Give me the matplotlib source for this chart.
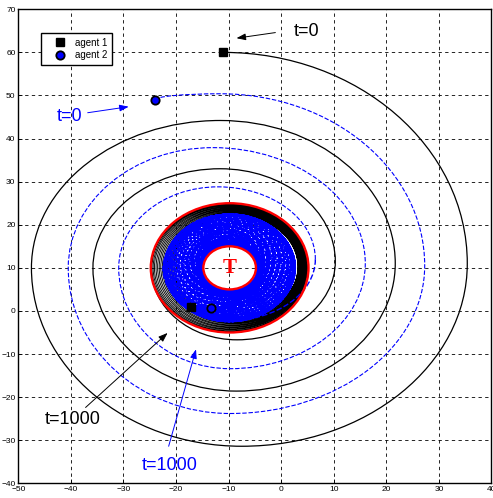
import matplotlib
matplotlib.use("Agg")
import numpy as np
import matplotlib.pyplot as plt
from matplotlib.path import Path
from matplotlib.patches import PathPatch, Circle

plt.rcParams['font.family'] = ['Liberation Sans', 'DejaVu Sans']

# target and the two circles around it
target = (-9.8, 10.0)
inner_radius = 5.0
outer_radius = 15.0

# agent 1: turning points of the wide spiral (top, right, bottom, left, ...)
a1_start = (-11.0, 60.0)
a1_end = (-17.2, 1.0)
a1_turn_x = [-11.0, 35.4, -7.5, -47.5, -11.6, 21.7, -8.5, -35.8, -11.6, 10.3, -8.4, -24.7]
a1_turn_y = [60.0, 11.0, -31.4, 10.0, 44.2, 11.0, -18.6, 10.0, 33.0, 11.5, -6.7, 10.0]
# agent 1: loops wound just inside the outer circle
a1_loop_cx = [-9.8, -9.75, -9.7, -9.6, -9.5, -9.4, -9.3, -9.2, -9.1, -9.0,
              -8.9, -8.8, -8.75, -8.7, -8.65, -8.6]
a1_loop_cy = [10.0, 10.0, 10.05, 10.05, 10.1, 10.1, 10.15, 10.15, 10.2, 10.2,
              10.2, 10.25, 10.25, 10.3, 10.3, 10.3]
a1_loop_r = [14.8, 14.6, 14.4, 14.2, 14.0, 13.8, 13.6, 13.4, 13.2, 13.0,
             12.8, 12.6, 12.4, 12.2, 12.0, 11.8]

# agent 2: start point, then turning points of the wide spiral
a2_start = (-24.0, 49.0)
a2_end = (-13.3, 0.7)
a2_turn_x = [-24.0, -11.6, 27.3, -9.7, -40.5, -13.0, 16.0, -9.7, -30.9, -12.0, 6.5]
a2_turn_y = [49.0, 50.4, 10.5, -23.8, 10.0, 37.9, 11.0, -13.4, 10.0, 28.8, 12.0]
# agent 2: lead-in loops before the steady orbit
a2_lead_cx = [-9.8, -10.9, -12.0, -13.0]
a2_lead_cy = [10.0, 10.0, 9.9, 9.8]
a2_lead_r = [12.2, 11.0, 10.2, 9.5]
# agent 2: steady orbit (loop radius, centre offset from T, offset direction per loop)
a2_orbit_r = 8.9
a2_orbit_offset = 3.6
a2_orbit_dir = [-175, -170, -165, -160, -155, -150, -145, -140, -135, -130, -125, -120,
                -115, -110, -105, -100, -95, -90, -85, -80, -75, -70, -65, -60,
                -55, -50, -45, -40, -35, -30, -25, -20, -15, -10, -5, 0,
                5, 10, 15, 20, 25, 30, 35, 40, 45, 50, 55, 60,
                65, 70, 75, 80, 85, 90, 95, 100, 105, 110, 115, 120,
                125, 130, 135, 140, 145, 150, 155, 160, 165, 170, 175, 180, 185]

# arrow labels: text position, arrow tail, arrow head
labels = [
    ("t=0", "black", (2.3, 64.9), (-1.1, 64.6), (-8.5, 63.3)),
    ("t=0", "blue", (-42.7, 45.2), (-36.8, 46.0), (-29.0, 47.4)),
    ("t=1000", "black", (-44.9, -25.3), (-37.2, -22.4), (-21.6, -5.1)),
    ("t=1000", "blue", (-26.6, -35.9), (-21.4, -31.4), (-16.2, -8.9)),
]

SIDES = "TRBL"
K = 0.5523


def ring(cx, cy, r):
    return {"T": (cx, cy + r), "R": (cx + r, cy), "B": (cx, cy - r), "L": (cx - r, cy)}


def agent_points(turn_x, turn_y, first_side, loop_cx, loop_cy, loop_r, end):
    pts = list(zip(turn_x, turn_y))
    side = SIDES.index(first_side) + len(pts)
    for cx, cy, r in zip(loop_cx, loop_cy, loop_r):
        rg = ring(cx, cy, r)
        for _ in range(4):
            pts.append(rg[SIDES[side % 4]])
            side += 1
    last = ring(loop_cx[-1], loop_cy[-1], loop_r[-1])
    while True:
        s = SIDES[side % 4]
        pts.append(last[s])
        side += 1
        if s == "B":
            break
    pts.append(end)
    return pts


def spiral_path(points, first_flat):
    # quarter-ellipse bezier pieces between successive turning points
    verts = [points[0]]
    codes = [Path.MOVETO]
    flat = first_flat
    for (x0, y0), (x1, y1) in zip(points[:-1], points[1:]):
        if flat:
            c1 = (x0 + K * (x1 - x0), y0)
            c2 = (x1, y1 + K * (y0 - y1))
        else:
            c1 = (x0, y0 + K * (y1 - y0))
            c2 = (x1 + K * (x0 - x1), y1)
        verts += [c1, c2, (x1, y1)]
        codes += [Path.CURVE4] * 3
        flat = not flat
    return Path(verts, codes)


def draw_agent(ax, pts, n_outer, first_flat, color, lw_outer, lw_core, ls, z):
    outer = pts[:n_outer + 1]
    core = pts[n_outer:]
    core_flat = first_flat if n_outer % 2 == 0 else not first_flat
    ax.add_patch(PathPatch(spiral_path(outer, first_flat), fill=False, edgecolor=color,
                           linewidth=lw_outer, linestyle=ls, zorder=z))
    ax.add_patch(PathPatch(spiral_path(core, core_flat), fill=False, edgecolor=color,
                           linewidth=lw_core, linestyle=ls, zorder=z))


ang = np.radians(a2_orbit_dir)
a2_cx = a2_lead_cx + list(target[0] + a2_orbit_offset * np.cos(ang))
a2_cy = a2_lead_cy + list(target[1] + a2_orbit_offset * np.sin(ang))
a2_r = a2_lead_r + [a2_orbit_r] * len(a2_orbit_dir)

pts1 = agent_points(a1_turn_x, a1_turn_y, "T", a1_loop_cx, a1_loop_cy, a1_loop_r, a1_end)
pts2 = agent_points(a2_turn_x, a2_turn_y, "L", a2_cx, a2_cy, a2_r, a2_end)

fig = plt.figure(figsize=(4.93, 4.98), dpi=100)
ax = fig.add_axes([0.0371, 0.0295, 0.9598, 0.9518])

draw_agent(ax, pts1, len(a1_turn_x) - 1, True, "black", 0.9, 0.65, "-", 2)
draw_agent(ax, pts2, len(a2_turn_x) - 1, False, "blue", 0.8, 1.0, (0, (4, 1.6)), 3)

for r in (outer_radius, inner_radius):
    ax.add_patch(Circle(target, r, fill=False, edgecolor="red", linewidth=1.7, zorder=4))
ax.text(target[0], target[1], "T", color="red", fontsize=15, fontweight="bold",
        family="Liberation Serif", ha="center", va="center", zorder=6)

ax.plot([a1_start[0], a1_end[0]], [a1_start[1], a1_end[1]], "s", color="black",
        markersize=5.5, linestyle="none", zorder=5, label="agent 1")
ax.plot([a2_start[0], a2_end[0]], [a2_start[1], a2_end[1]], "o", markerfacecolor="blue",
        markeredgecolor="black", markeredgewidth=1.3, markersize=6, linestyle="none",
        zorder=5, label="agent 2")

for text, color, xy_text, tail, head in labels:
    ax.text(xy_text[0], xy_text[1], text, color=color, fontsize=13, ha="left", va="center")
    ax.annotate("", xy=head, xytext=tail,
                arrowprops=dict(arrowstyle="-|>,head_length=0.55,head_width=0.2",
                                color=color, lw=0.7, shrinkA=0, shrinkB=0))

ax.set_xlim(-50, 40)
ax.set_ylim(-40, 70)
ax.set_xticks(range(-50, 41, 10))
ax.set_yticks(range(-40, 71, 10))
ax.tick_params(direction="in", length=3, width=0.6, labelsize=6, pad=2)
ax.grid(True, color="black", linestyle=(0, (4, 4)), linewidth=0.6)
for sp in ax.spines.values():
    sp.set_linewidth(1.0)

leg = ax.legend(loc="upper left", bbox_to_anchor=(0.048, 0.95), fontsize=7,
                fancybox=False, edgecolor="black", framealpha=1, borderaxespad=0,
                borderpad=0.5, handletextpad=0.1, handlelength=2.9, labelspacing=0.25)
leg.get_frame().set_linewidth(1.0)

fig.savefig("out.png", dpi=100)
